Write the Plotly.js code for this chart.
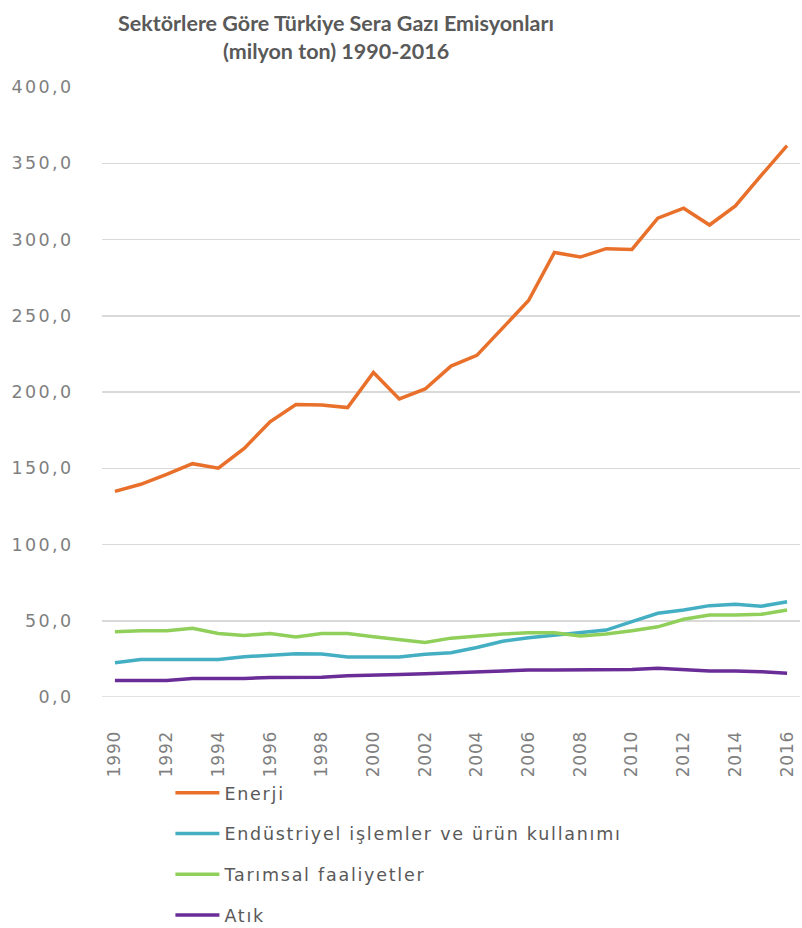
<!DOCTYPE html>
<html>
<head>
<meta charset="utf-8">
<script src="https://cdn.plot.ly/plotly-3.0.1.min.js"></script>
<style>
html,body{margin:0;padding:0;background:#fff;}
#chart{width:802px;height:928px;}
#chart .ytick text{letter-spacing:2.4px;}
#chart .xtick text{letter-spacing:0.8px;}
text.legendtext{letter-spacing:1.75px;}
</style>
</head>
<body>
<div id="chart"></div>
<script>
const years = [1990,1991,1992,1993,1994,1995,1996,1997,1998,1999,2000,2001,2002,2003,2004,2005,2006,2007,2008,2009,2010,2011,2012,2013,2014,2015,2016];
const seriesNames = ["Enerji","Endüstriyel işlemler ve ürün kullanımı","Tarımsal faaliyetler","Atık"];
const enerji = [134.8,139.5,146.0,153.0,150.0,163.0,180.5,191.8,191.5,189.8,212.8,195.5,202.0,217.0,224.0,242.0,260.0,291.5,288.5,294.0,293.5,314.0,320.5,309.5,322.0,342.0,361.5];
const endustriyel = [22.5,24.6,24.6,24.6,24.6,26.4,27.5,28.4,28.2,26.2,26.2,26.2,28.0,29.0,32.5,36.5,38.9,40.7,42.2,43.9,49.4,54.9,57.0,59.9,60.8,59.5,62.5];
const tarimsal = [42.8,43.5,43.5,45.0,41.7,40.4,41.7,39.3,41.7,41.7,39.5,37.8,35.8,38.6,40.0,41.3,42.2,42.2,40.0,41.3,43.5,46.0,51.0,53.8,53.8,54.2,57.0];
const atik = [10.9,10.9,10.9,12.2,12.2,12.2,12.8,12.8,13.0,14.0,14.2,14.8,15.2,15.8,16.6,17.0,17.7,17.7,17.7,17.7,18.1,18.8,18.1,17.0,17.0,16.6,15.5];
const yTicks = [0,50,100,150,200,250,300,350,400];
const xTickYears = [1990,1992,1994,1996,1998,2000,2002,2004,2006,2008,2010,2012,2014,2016];

const colors = ["#E8702A","#44AFC3","#8FCF5A","#6A2C96"];
const values = [enerji, endustriyel, tarimsal, atik];

const traces = values.map((v,i) => ({
  type: "scatter",
  mode: "lines",
  x: years,
  y: v,
  name: seriesNames[i],
  legendgroup: "g"+i,
  line: {color: colors[i], width: 3.5},
  hoverinfo: "skip"
}));

const font = "'DejaVu Sans', sans-serif";

const layout = {
  width: 802,
  height: 928,
  margin: {l: 102, r: 2, t: 87, b: 231},
  paper_bgcolor: "#ffffff",
  plot_bgcolor: "#ffffff",
  showlegend: true,
  title: {
    text: "<b>Sektörlere Göre Türkiye Sera Gazı Emisyonları<br>(milyon ton) 1990-2016</b>",
    font: {family: "Lato, 'Open Sans', sans-serif", size: 21.5, color: "#595959"},
    x: 0.419, xref: "container", xanchor: "center",
    y: 0.967, yref: "container", yanchor: "top"
  },
  xaxis: {
    range: [1989.5, 2016.5],
    tickmode: "array",
    tickvals: xTickYears,
    ticktext: xTickYears.map(String),
    tickangle: -90,
    tickfont: {family: font, size: 17, color: "#7f7f7f"},
    showgrid: false,
    zeroline: false,
    showline: false,
    ticks: "outside",
    ticklen: 26,
    tickcolor: "rgba(0,0,0,0)",
    fixedrange: true
  },
  yaxis: {
    range: [0, 400],
    tickmode: "array",
    tickvals: yTicks,
    ticktext: yTicks.map(v => v.toFixed(1).replace(".", ",")),
    tickfont: {family: font, size: 17.5, color: "#7f7f7f"},
    showgrid: true,
    gridcolor: "#d9d9d9",
    gridwidth: 1.5,
    zeroline: false,
    showline: false,
    ticks: "outside",
    ticklen: 24,
    tickcolor: "rgba(0,0,0,0)",
    fixedrange: true
  },
  legend: {
    orientation: "v",
    xref: "paper", yref: "container",
    x: 0.098, xanchor: "left",
    y: 0.165, yanchor: "top",
    font: {family: font, size: 17.5, color: "#595959"},
    itemwidth: 44,
    tracegroupgap: 15,
    bgcolor: "rgba(0,0,0,0)"
  },
  shapes: [{
    type: "line", xref: "paper", yref: "y", x0: 0, x1: 1, y0: 0, y1: 0,
    line: {color: "#d9d9d9", width: 1.5}, layer: "below"
  }]
};

Plotly.newPlot("chart", traces, layout, {displayModeBar: false, staticPlot: true});
</script>
</body>
</html>
